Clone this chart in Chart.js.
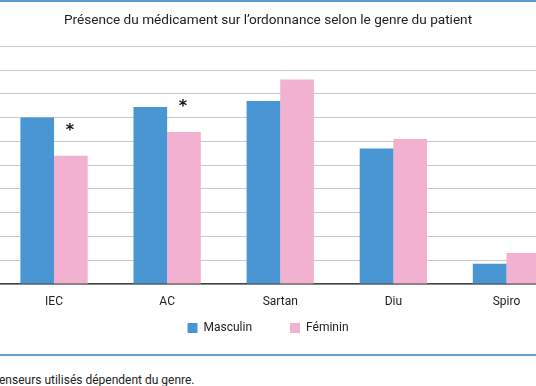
<!DOCTYPE html>
<html>
<head>
<meta charset="utf-8">
<script src="https://cdn.jsdelivr.net/npm/chart.js@4/dist/chart.umd.min.js"></script>
<style>
  html, body { margin: 0; padding: 0; background: #fff; }
  body { width: 536px; height: 386px; position: relative; overflow: hidden; font-family: Roboto, sans-serif; }
  #topLine { position: absolute; left: 0; top: 0; width: 536px; height: 2px; background: #5b9bd5; }
  #wrap { position: absolute; left: -27px; top: 0; width: 590px; height: 346px; }
  #bottomLine { position: absolute; left: 0; top: 354px; width: 536px; height: 2px; background: #6a9fcc; }
  #note { position: absolute; left: -1px; top: 373px; font-size: 12px; color: #222; white-space: nowrap; }
</style>
</head>
<body>
<div id="topLine"></div>
<div id="wrap"><canvas id="myChart"></canvas></div>
<div id="bottomLine"></div>
<div id="note">enseurs utilisés dépendent du genre.</div>
<script>
// ***** Data *****
const categories = ['IEC', 'AC', 'Sartan', 'Diu', 'Spiro'];
const masculin = [70, 74.5, 77, 57, 8.5];
const feminin = [54, 64, 86, 61, 13];
const significant = [true, true, false, false, false];
const yTicks = [0, 10, 20, 30, 40, 50, 60, 70, 80, 90, 100];

const blue = '#4a96d3';
const pink = '#f2b1d0';

// Asterisks over the feminin bar where the gap is significant
const starPlugin = {
  id: 'stars',
  afterDatasetsDraw(chart) {
    const { ctx } = chart;
    const meta = chart.getDatasetMeta(1);
    ctx.save();
    ctx.fillStyle = '#111';
    ctx.font = 'bold 16px "DejaVu Sans"';
    ctx.textAlign = 'center';
    ctx.textBaseline = 'middle';
    significant.forEach((s, i) => {
      if (!s) return;
      const bar = meta.data[i];
      ctx.fillText('*', bar.x - 1, bar.y - 25);
    });
    ctx.restore();
  }
};

const configChart = {
  type: 'bar',
  data: {
    labels: categories,
    datasets: [
      { label: 'Masculin', data: masculin, backgroundColor: blue, borderWidth: 0 },
      { label: 'Féminin', data: feminin, backgroundColor: pink, borderWidth: 0 }
    ]
  },
  options: {
    responsive: true,
    maintainAspectRatio: false,
    animation: false,
    datasets: { bar: { barPercentage: 1, categoryPercentage: 0.595 } },
    layout: { padding: { left: 0, right: 0, top: 0, bottom: 2 } },
    plugins: {
      title: {
        display: true,
        text: 'Présence du médicament sur l\u2019ordonnance selon le genre du patient',
        color: '#222',
        font: { family: 'Roboto', size: 13.6, weight: 'normal' },
        padding: { top: 12, bottom: 18 }
      },
      legend: {
        position: 'bottom',
        labels: {
          boxWidth: 10,
          boxHeight: 10,
          padding: 38,
          color: '#222',
          font: { family: 'Roboto', size: 12 }
        }
      },
      tooltip: { enabled: false }
    },
    scales: {
      x: {
        grid: { display: false },
        border: { color: '#444', width: 1.5 },
        // zero-height axis, labels spill into the legend's top padding (no clipping)
        afterFit: (scale) => {
          scale.height = 0;
          scale._computeLabelArea = () => null;
        },
        ticks: { color: '#222', font: { family: 'Roboto', size: 12 }, padding: 3, autoSkip: false, maxRotation: 0 }
      },
      y: {
        min: 0,
        max: 100,
        afterBuildTicks: (scale) => { scale.ticks = yTicks.map(v => ({ value: v })); },
        afterFit: (scale) => { scale.width = 24.5; },
        ticks: { display: false },
        border: { display: false },
        grid: { color: '#c8c8c8', lineWidth: 1, drawTicks: false }
      }
    }
  },
  plugins: [starPlugin]
};

const salesChart = new Chart(document.getElementById('myChart'), configChart);
</script>
</body>
</html>
